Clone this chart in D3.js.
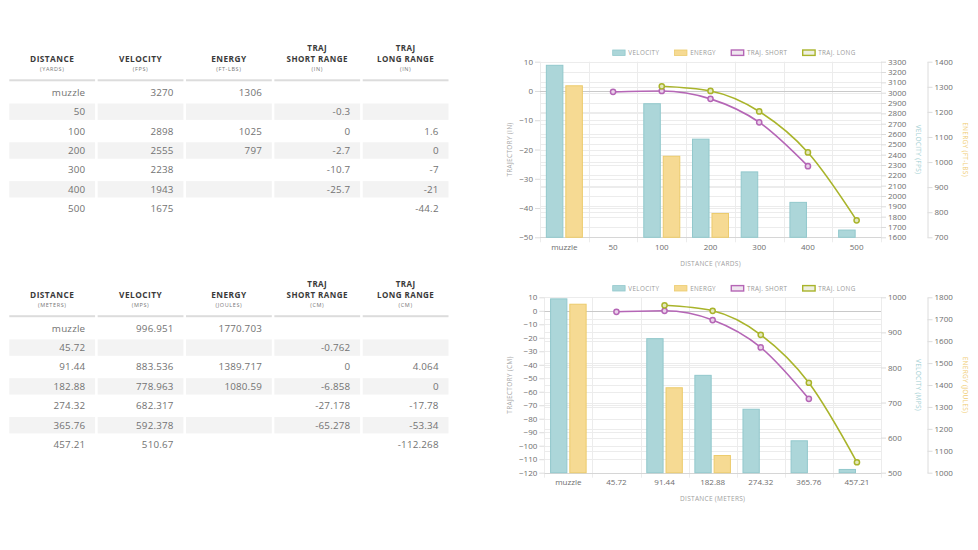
<!DOCTYPE html>
<html>
<head>
<meta charset="utf-8">
<script src="https://cdn.jsdelivr.net/npm/d3@7"></script>
<style>
  body { margin: 0; background: #fff; }
  svg { display: block; font-family: "Open Sans", sans-serif; }
</style>
</head>
<body>
<script>
// ---- data : imperial ----
const yardLabels = ['muzzle', '50', '100', '200', '300', '400', '500'];
const velocityFps = [3270, null, 2898, 2555, 2238, 1943, 1675];
const energyFtLbs = [1306, null, 1025, 797, null, null, null];
const trajShortIn = [null, -0.3, 0, -2.7, -10.7, -25.7, null];
const trajLongIn = [null, null, 1.6, 0, -7, -21, -44.2];

// ---- data : metric ----
const meterLabels = ['muzzle', '45.72', '91.44', '182.88', '274.32', '365.76', '457.21'];
const velocityMps = [996.951, null, 883.536, 778.963, 682.317, 592.378, 510.67];
const energyJoules = [1770.703, null, 1389.717, 1080.59, null, null, null];
const trajShortCm = [null, -0.762, 0, -6.858, -27.178, -65.278, null];
const trajLongCm = [null, null, 4.064, 0, -17.78, -53.34, -112.268];

// table headers
const yardHeaders = [['DISTANCE', '(YARDS)'], ['VELOCITY', '(FPS)'], ['ENERGY', '(FT-LBS)'],
                     ['TRAJ', 'SHORT RANGE', '(IN)'], ['TRAJ', 'LONG RANGE', '(IN)']];
const meterHeaders = [['DISTANCE', '(METERS)'], ['VELOCITY', '(MPS)'], ['ENERGY', '(JOULES)'],
                      ['TRAJ', 'SHORT RANGE', '(CM)'], ['TRAJ', 'LONG RANGE', '(CM)']];

// axis ticks
const trajTicksIn = d3.range(-50, 11, 10);
const velTicksFps = d3.range(1600, 3301, 100);
const engTicksFtLbs = d3.range(700, 1401, 100);
const trajTicksCm = d3.range(-120, 11, 10);
const velTicksMps = d3.range(500, 1001, 100);
const engTicksJoules = d3.range(1000, 1801, 100);

const legendNames = ['VELOCITY', 'ENERGY', 'TRAJ. SHORT', 'TRAJ. LONG'];

const colors = {
    velFill: '#acd6d9', velStroke: '#92c8cc',
    engFill: '#f6da93', engStroke: '#eccb6c',
    short: '#b566b6', long: '#a9b42b'
};

const svg = d3.select('body').append('svg')
    .attr('width', 978)
    .attr('height', 550);

svg.append('rect').attr('width', 978).attr('height', 550).attr('fill', '#fff');

// ---------- tables ----------
function draw_table(headers, labels, columns, top){
    const g = svg.append('g').attr('transform', `translate(0,${top})`);
    const col_x = d3.range(5).map(i => 9.3 + i * 88.35);
    const col_w = 85.8;
    const row_y = i => 12 + i * 19.4;   // row centre, relative to underline

    // striped rows
    labels.forEach((d, i) => {
        if (i % 2 === 1) {
            col_x.forEach(x => {
                g.append('rect')
                    .attr('x', x).attr('y', row_y(i) - 8.2)
                    .attr('width', col_w).attr('height', 16.4)
                    .attr('fill', '#f3f3f3');
            });
        }
    });

    // header : one text per cell, lines as tspans
    headers.forEach((h, c) => {
        const cx = col_x[c] + col_w / 2;
        g.append('rect')
            .attr('x', col_x[c]).attr('y', -1)
            .attr('width', col_w).attr('height', 2)
            .attr('fill', '#dcdcdc');
        const three = h.length === 3;
        const lines = three ? [-32.5, -21.4] : [-21.3];
        const fs = three ? 8 : 8.3;
        const t = g.append('text')
            .attr('text-anchor', 'middle')
            .style('fill', '#3a3a3a');
        lines.forEach((yy, k) => {
            t.append('tspan')
                .attr('x', cx).attr('y', yy + fs * 0.35)
                .style('font-size', fs + 'px')
                .style('font-weight', 700)
                .style('letter-spacing', '0.45px')
                .text(h[k]);
        });
        t.append('tspan')
            .attr('x', cx).attr('y', -11 + 1.9)
            .style('font-size', '5.5px')
            .style('letter-spacing', '0.6px')
            .style('fill', '#777')
            .text(h[h.length - 1]);
    });

    // body
    labels.forEach((lab, i) => {
        const cells = [lab].concat(columns.map(col => col[i]));
        cells.forEach((v, c) => {
            if (v === null || v === undefined) return;
            g.append('text')
                .attr('x', col_x[c] + col_w - 9.8)
                .attr('y', row_y(i))
                .attr('dy', '0.35em')
                .attr('text-anchor', 'end')
                .style('font-size', '9.8px')
                .style('letter-spacing', '0.2px')
                .style('fill', '#727272')
                .text(String(v));
        });
    });
}

draw_table(yardHeaders, yardLabels, [velocityFps, energyFtLbs, trajShortIn, trajLongIn], 80.3);
draw_table(meterHeaders, meterLabels, [velocityMps, energyJoules, trajShortCm, trajLongCm], 316.2);

// ---------- charts ----------
function draw_chart(cfg){
    const g = svg.append('g');
    const x = d3.scaleBand().domain(cfg.labels).range([cfg.left, cfg.right]);
    const bw = x.bandwidth();
    const x_sub = d3.scaleBand().domain(['vel', 'eng']).range([0, bw * 0.8])
                    .paddingInner(0.1).paddingOuter(0.05);
    const sub_off = (bw - bw * 0.8) / 2;

    const y = d3.scaleLinear(d3.extent(cfg.trajTicks), [cfg.bottom, cfg.top]);
    const y_vel = d3.scaleLinear(d3.extent(cfg.velTicks), [cfg.bottom, cfg.top]);
    const y_eng = d3.scaleLinear(d3.extent(cfg.engTicks), [cfg.bottom, cfg.top]);

    // grid: horizontal lines of all three axes
    const grid = g.append('g').attr('class', 'grid');
    [[y_eng, cfg.engTicks], [y_vel, cfg.velTicks], [y, cfg.trajTicks]].forEach(([sc, ticks]) => {
        grid.selectAll(null).data(ticks).join('line')
            .attr('x1', cfg.left).attr('x2', cfg.right)
            .attr('y1', d => Math.round(sc(d)) + 0.5).attr('y2', d => Math.round(sc(d)) + 0.5)
            .attr('stroke', '#ececec');
    });
    // vertical lines at category boundaries
    const bounds = cfg.labels.map(d => x(d)).concat([cfg.right]);
    grid.selectAll(null).data(bounds).join('line')
        .attr('x1', d => Math.round(d) + 0.5).attr('x2', d => Math.round(d) + 0.5)
        .attr('y1', cfg.top).attr('y2', cfg.bottom + 5)
        .attr('stroke', '#ececec');
    // zero line
    grid.append('line')
        .attr('x1', cfg.left).attr('x2', cfg.right)
        .attr('y1', Math.round(y(0)) + 0.5).attr('y2', Math.round(y(0)) + 0.5)
        .attr('stroke', '#c9c9c9');
    // bottom line
    grid.append('line')
        .attr('x1', cfg.left).attr('x2', cfg.right)
        .attr('y1', Math.round(cfg.bottom) + 0.5).attr('y2', Math.round(cfg.bottom) + 0.5)
        .attr('stroke', '#d6d6d6');

    // axes
    const fmt = d3.format('d');
    const style_axis = (sel) => {
        sel.selectAll('text').style('font-size', '8px').style('fill', '#6e6e6e')
            .style('font-family', '"Open Sans", sans-serif');
        sel.selectAll('line').attr('stroke', '#dcdcdc');
        sel.select('.domain').attr('stroke', '#dcdcdc');
    };
    g.append('g')
        .attr('transform', `translate(${cfg.left},0)`)
        .call(d3.axisLeft(y).tickValues(cfg.trajTicks).tickFormat(fmt).tickSize(5).tickPadding(2).tickSizeOuter(0))
        .call(style_axis)
        .call(s => s.select('.domain').remove());
    g.append('g')
        .attr('transform', `translate(${cfg.right},0)`)
        .call(d3.axisRight(y_vel).tickValues(cfg.velTicks).tickFormat(fmt).tickSize(5).tickPadding(2).tickSizeOuter(0))
        .call(style_axis)
        .call(s => s.select('.domain').remove());
    g.append('g')
        .attr('transform', `translate(${cfg.engAxisX},0)`)
        .call(d3.axisRight(y_eng).tickValues(cfg.engTicks).tickFormat(fmt).tickSize(5).tickPadding(2).tickSizeOuter(0))
        .call(style_axis);

    // x labels
    g.selectAll(null).data(cfg.labels).join('text')
        .attr('x', d => x(d) + bw / 2)
        .attr('y', cfg.bottom + 9.5)
        .attr('dy', '0.35em')
        .attr('text-anchor', 'middle')
        .style('font-size', '8px')
        .style('fill', '#6e6e6e')
        .text(d => d);

    // bars
    const bars = g.append('g').attr('class', 'bars');
    const bar_data = [];
    cfg.labels.forEach((lab, i) => {
        if (cfg.vel[i] !== null) bar_data.push({lab, key: 'vel', v: cfg.vel[i]});
        if (cfg.eng[i] !== null) bar_data.push({lab, key: 'eng', v: cfg.eng[i]});
    });
    bars.selectAll('rect').data(bar_data).join('rect')
        .attr('x', d => x(d.lab) + sub_off + x_sub(d.key) + 0.5)
        .attr('width', x_sub.bandwidth() - 1)
        .attr('y', d => (d.key === 'vel' ? y_vel(d.v) : y_eng(d.v)) + 0.5)
        .attr('height', d => cfg.bottom - (d.key === 'vel' ? y_vel(d.v) : y_eng(d.v)) - 0.5)
        .attr('fill', d => d.key === 'vel' ? colors.velFill : colors.engFill)
        .attr('stroke', d => d.key === 'vel' ? colors.velStroke : colors.engStroke)
        .attr('stroke-width', 1);

    // trajectory lines
    const line = d3.line()
        .defined(d => d.v !== null)
        .x(d => x(d.lab) + bw / 2)
        .y(d => y(d.v))
        .curve(d3.curveMonotoneX);
    [[cfg.short, colors.short], [cfg.long, colors.long]].forEach(([vals, col]) => {
        const pts = cfg.labels.map((lab, i) => ({lab, v: vals[i]}));
        g.append('path')
            .datum(pts.filter(d => d.v !== null))
            .attr('d', line)
            .attr('fill', 'none')
            .attr('stroke', col)
            .attr('stroke-width', 1.6);
        g.selectAll(null).data(pts.filter(d => d.v !== null)).join('circle')
            .attr('cx', d => x(d.lab) + bw / 2)
            .attr('cy', d => y(d.v))
            .attr('r', 2.6)
            .attr('fill', d3.interpolateRgb('#fff', col)(0.3))
            .attr('stroke', col)
            .attr('stroke-width', 1.5);
    });

    // axis titles
    const title = (tx, ty, rot, txt, col) => {
        g.append('text')
            .attr('transform', `translate(${tx},${ty}) rotate(${rot})`)
            .attr('text-anchor', 'middle')
            .attr('dy', '0.35em')
            .style('font-size', '6.5px')
            .style('letter-spacing', '0.3px')
            .style('fill', col)
            .text(txt);
    };
    const mid_y = (cfg.top + cfg.bottom) / 2;
    title(509.5, mid_y, -90, cfg.trajTitle, '#a8a8a8');
    title(918, mid_y, 90, cfg.velTitle, '#9fcfd3');
    title(965.5, mid_y, 90, cfg.engTitle, '#f0cd74');
    title((cfg.left + cfg.right) / 2, cfg.bottom + 26, 0, cfg.xTitle, '#a0a0a0');

    // legend
    let lx = 612.7;
    const ly = cfg.top - 9;
    const box_style = [
        {fill: colors.velFill, stroke: colors.velStroke},
        {fill: colors.engFill, stroke: colors.engStroke},
        {fill: '#efe6ef', stroke: colors.short},
        {fill: '#eeefe2', stroke: colors.long}
    ];
    legendNames.forEach((name, i) => {
        const s = box_style[i];
        g.append('rect')
            .attr('x', lx).attr('y', ly - 2.7)
            .attr('width', 12.4).attr('height', 5.4)
            .attr('fill', s.fill)
            .attr('stroke', s.stroke)
            .attr('stroke-width', i > 1 ? 1.4 : 0.8);
        const t = g.append('text')
            .attr('x', lx + 15.6).attr('y', ly)
            .attr('dy', '0.35em')
            .style('font-size', '6.3px')
            .style('letter-spacing', '0.35px')
            .style('fill', '#9a9a9a')
            .text(name);
        lx += 15.6 + t.node().getComputedTextLength() + 15.3;
    });
}

draw_chart({
    labels: yardLabels, vel: velocityFps, eng: energyFtLbs,
    short: trajShortIn, long: trajLongIn,
    trajTicks: trajTicksIn, velTicks: velTicksFps, engTicks: engTicksFtLbs,
    left: 540, right: 881, top: 61.7, bottom: 237.3, engAxisX: 927.5,
    trajTitle: 'TRAJECTORY (IN)', velTitle: 'VELOCITY (FPS)',
    engTitle: 'ENERGY (FT-LBS)', xTitle: 'DISTANCE (YARDS)'
});

draw_chart({
    labels: meterLabels, vel: velocityMps, eng: energyJoules,
    short: trajShortCm, long: trajLongCm,
    trajTicks: trajTicksCm, velTicks: velTicksMps, engTicks: engTicksJoules,
    left: 544.3, right: 881, top: 297.3, bottom: 472.7, engAxisX: 927.5,
    trajTitle: 'TRAJECTORY (CM)', velTitle: 'VELOCITY (MPS)',
    engTitle: 'ENERGY (JOULES)', xTitle: 'DISTANCE (METERS)'
});
</script>
</body>
</html>
